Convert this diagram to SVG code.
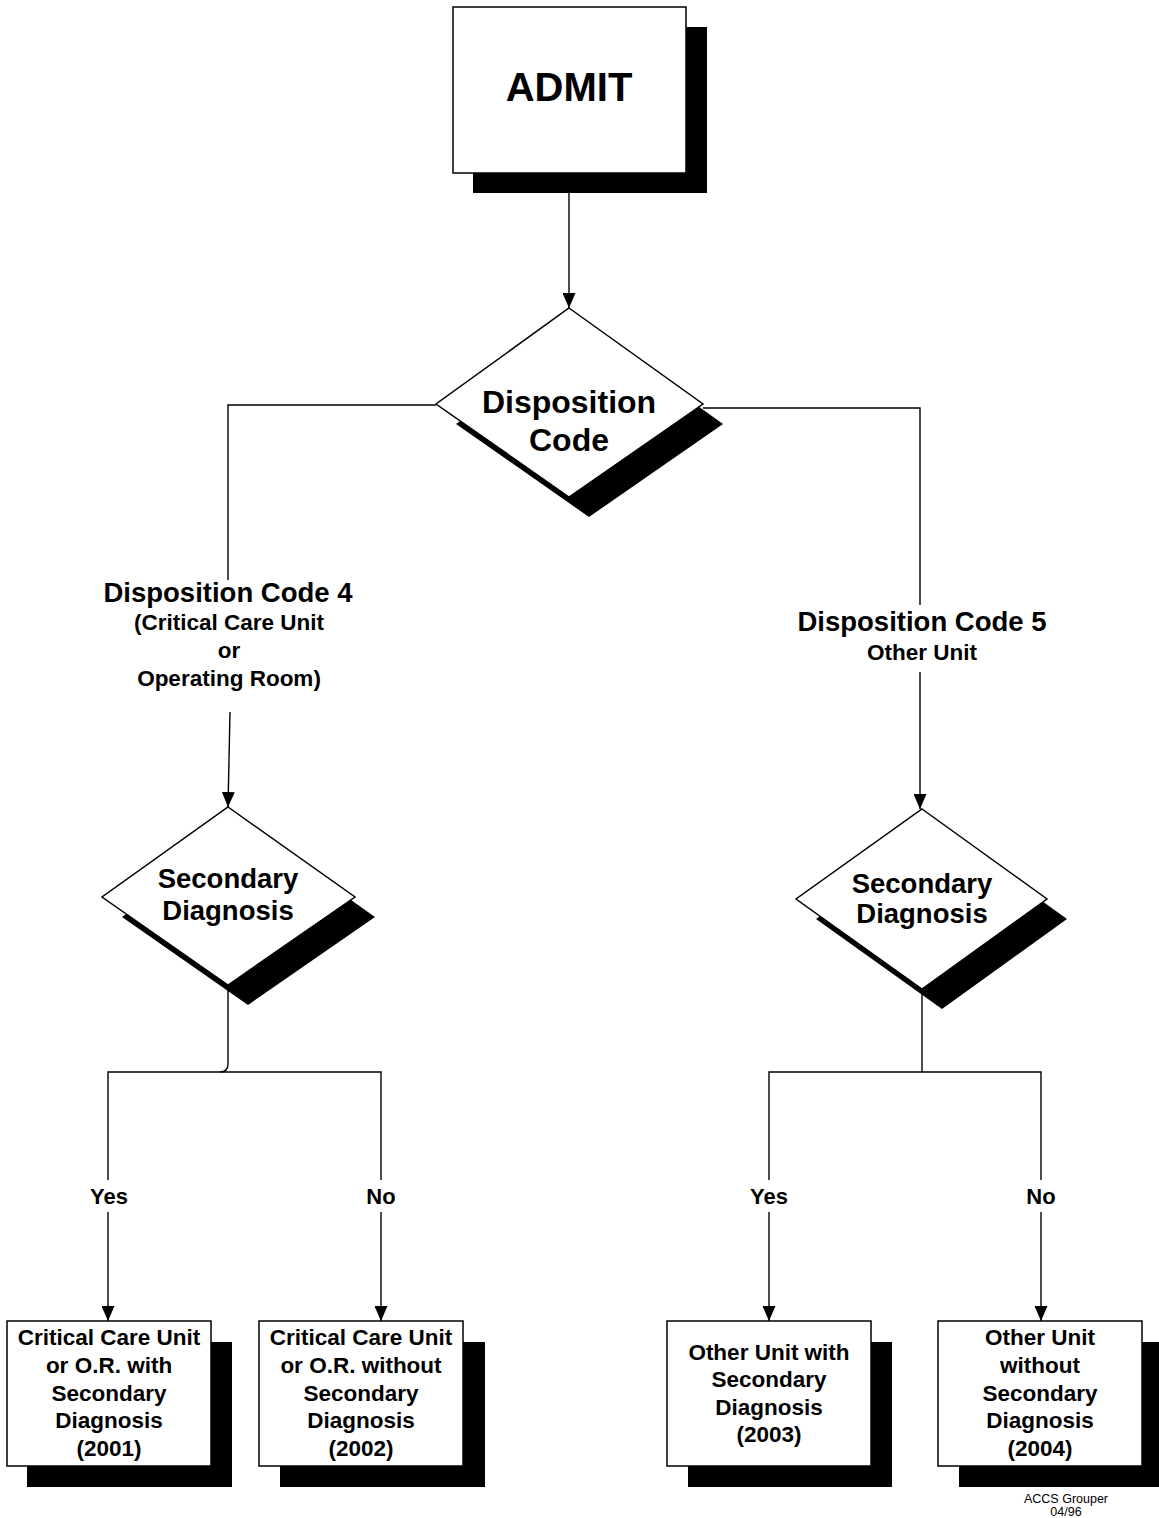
<svg xmlns="http://www.w3.org/2000/svg" width="1159" height="1518" viewBox="0 0 1159 1518">
<style>
  .box { fill: #fff; stroke: #000; stroke-width: 1.5; }
  .shadow { fill: #000; stroke: none; }
  .line { fill: none; stroke: #000; stroke-width: 1.4; }
  text { font-family: "Liberation Sans", Arial, sans-serif; font-weight: bold; fill: #000; text-anchor: middle; }
  .t40 { font-size: 40px; }
  .t32 { font-size: 32px; }
  .t27 { font-size: 27.5px; }
  .t22 { font-size: 22.5px; }
  .yn { font-size: 22px; }
  .foot { font-size: 12.5px; font-weight: normal; }
</style>
<defs>
  <marker id="arrow" markerUnits="userSpaceOnUse" markerWidth="15" markerHeight="13" refX="15" refY="6.5" orient="auto">
    <path d="M0,0 L15,6.5 L0,13 Z" fill="#000"/>
  </marker>
</defs>
<rect width="1159" height="1518" fill="#fff"/>

<g id="connectors">
  <line class="line" x1="569" y1="193" x2="569" y2="308" marker-end="url(#arrow)"/>
  <polyline class="line" points="436,405 228,405 228,580"/>
  <polyline class="line" points="703,408 920,408 920,605"/>
  <line class="line" x1="230" y1="712" x2="228" y2="807" marker-end="url(#arrow)"/>
  <line class="line" x1="920" y1="672" x2="920" y2="809" marker-end="url(#arrow)"/>
  <path class="line" d="M228,985 V1064 Q228,1072 220,1072"/>
  <polyline class="line" points="108,1180 108,1072 381,1072 381,1180"/>
  <line class="line" x1="108" y1="1212" x2="108" y2="1321" marker-end="url(#arrow)"/>
  <line class="line" x1="381" y1="1212" x2="381" y2="1321" marker-end="url(#arrow)"/>
  <line class="line" x1="922" y1="990" x2="922" y2="1072"/>
  <polyline class="line" points="769,1180 769,1072 1041,1072 1041,1180"/>
  <line class="line" x1="769" y1="1212" x2="769" y2="1321" marker-end="url(#arrow)"/>
  <line class="line" x1="1041" y1="1212" x2="1041" y2="1321" marker-end="url(#arrow)"/>
</g>

<g id="admit">
  <rect class="shadow" x="473" y="27" width="234" height="166"/>
  <rect class="box" x="453" y="7" width="233" height="166"/>
  <text class="t40" x="569" y="101">ADMIT</text>
</g>

<g id="disposition-code">
  <polygon class="shadow" points="589,328 723,424 589,517 456,424"/>
  <polygon class="box" points="569,308 703,404 569,497 436,404"/>
  <text class="t32" x="569" y="413">Disposition</text>
  <text class="t32" x="569" y="451">Code</text>
</g>

<g id="label-code4">
  <text class="t27" x="228" y="602">Disposition Code 4</text>
  <text class="t22" x="229" y="630">(Critical Care Unit</text>
  <text class="t22" x="229" y="658">or</text>
  <text class="t22" x="229" y="686">Operating Room)</text>
</g>

<g id="label-code5">
  <text class="t27" x="922" y="631">Disposition Code 5</text>
  <text class="t22" x="922" y="660">Other Unit</text>
</g>

<g id="secondary-left">
  <polygon class="shadow" points="248,827 375,917 248,1005 122,917"/>
  <polygon class="box" points="228,807 355,897 228,985 102,897"/>
  <text class="t27" x="228" y="888">Secondary</text>
  <text class="t27" x="228" y="920">Diagnosis</text>
</g>

<g id="secondary-right">
  <polygon class="shadow" points="942,829 1067,919 942,1009 816,919"/>
  <polygon class="box" points="922,809 1047,899 922,989 796,899"/>
  <text class="t27" x="922" y="893">Secondary</text>
  <text class="t27" x="922" y="923">Diagnosis</text>
</g>

<g id="label-yes-left"><text class="yn" x="109" y="1204">Yes</text></g>
<g id="label-no-left"><text class="yn" x="381" y="1204">No</text></g>
<g id="label-yes-right"><text class="yn" x="769" y="1204">Yes</text></g>
<g id="label-no-right"><text class="yn" x="1041" y="1204">No</text></g>

<g id="box-2001">
  <rect class="shadow" x="27" y="1342" width="205" height="145"/>
  <rect class="box" x="7" y="1321" width="204" height="145"/>
  <text class="t22" x="109" y="1345">Critical Care Unit</text>
  <text class="t22" x="109" y="1373">or O.R. with</text>
  <text class="t22" x="109" y="1401">Secondary</text>
  <text class="t22" x="109" y="1428">Diagnosis</text>
  <text class="t22" x="109" y="1456">(2001)</text>
</g>

<g id="box-2002">
  <rect class="shadow" x="280" y="1342" width="205" height="145"/>
  <rect class="box" x="259" y="1321" width="204" height="145"/>
  <text class="t22" x="361" y="1345">Critical Care Unit</text>
  <text class="t22" x="361" y="1373">or O.R. without</text>
  <text class="t22" x="361" y="1401">Secondary</text>
  <text class="t22" x="361" y="1428">Diagnosis</text>
  <text class="t22" x="361" y="1456">(2002)</text>
</g>

<g id="box-2003">
  <rect class="shadow" x="688" y="1342" width="204" height="145"/>
  <rect class="box" x="667" y="1321" width="204" height="145"/>
  <text class="t22" x="769" y="1360">Other Unit with</text>
  <text class="t22" x="769" y="1387">Secondary</text>
  <text class="t22" x="769" y="1415">Diagnosis</text>
  <text class="t22" x="769" y="1442">(2003)</text>
</g>

<g id="box-2004">
  <rect class="shadow" x="959" y="1342" width="200" height="145"/>
  <rect class="box" x="938" y="1321" width="204" height="145"/>
  <text class="t22" x="1040" y="1345">Other Unit</text>
  <text class="t22" x="1040" y="1373">without</text>
  <text class="t22" x="1040" y="1401">Secondary</text>
  <text class="t22" x="1040" y="1428">Diagnosis</text>
  <text class="t22" x="1040" y="1456">(2004)</text>
</g>

<g id="footer">
  <text class="foot" x="1066" y="1503">ACCS Grouper</text>
  <text class="foot" x="1066" y="1516">04/96</text>
</g>
</svg>
